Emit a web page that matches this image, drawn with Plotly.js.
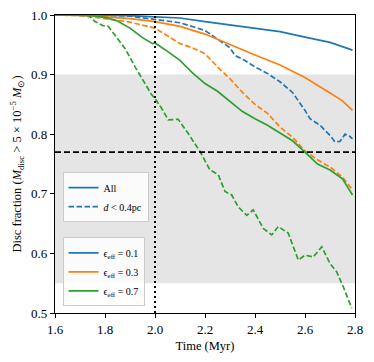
<!DOCTYPE html>
<html>
<head>
<meta charset="utf-8">
<script src="https://cdn.plot.ly/plotly-3.0.1.min.js"></script>
<style>
  body { margin: 0; background: #fff; }
  #plot { width: 374px; height: 362px; }
</style>
</head>
<body>
<div id="plot"></div>
<script>
// disc fraction vs time
let tBlueAll = [1.6, 1.7, 1.8, 1.9, 2.0, 2.1, 2.2, 2.3, 2.4, 2.5, 2.6, 2.7, 2.79];
let fBlueAll = [1.0, 1.0, 1.0, 0.999, 0.997, 0.995, 0.989, 0.983, 0.977, 0.972, 0.963, 0.954, 0.941];

let tBlueNear = [1.6, 1.7, 1.8, 1.85, 1.9, 2.0, 2.1, 2.2, 2.25, 2.3, 2.32, 2.35, 2.4, 2.45, 2.5, 2.55, 2.6, 2.62, 2.66, 2.7, 2.72, 2.74, 2.76, 2.78, 2.79];
let fBlueNear = [1.0, 1.0, 1.0, 0.999, 0.998, 0.993, 0.987, 0.974, 0.960, 0.945, 0.932, 0.926, 0.913, 0.902, 0.888, 0.870, 0.840, 0.826, 0.815, 0.798, 0.787, 0.788, 0.800, 0.796, 0.792];

let tOrangeAll = [1.6, 1.7, 1.8, 1.9, 2.0, 2.1, 2.2, 2.3, 2.4, 2.5, 2.6, 2.7, 2.75, 2.79];
let fOrangeAll = [1.0, 1.0, 0.997, 0.994, 0.989, 0.981, 0.968, 0.950, 0.933, 0.916, 0.895, 0.869, 0.856, 0.840];

let tOrangeNear = [1.6, 1.7, 1.8, 1.9, 2.0, 2.05, 2.1, 2.15, 2.2, 2.25, 2.3, 2.35, 2.4, 2.45, 2.5, 2.55, 2.6, 2.65, 2.7, 2.75, 2.79];
let fOrangeNear = [1.0, 0.999, 0.994, 0.988, 0.978, 0.965, 0.952, 0.945, 0.935, 0.913, 0.893, 0.870, 0.850, 0.835, 0.812, 0.795, 0.772, 0.757, 0.745, 0.728, 0.707];

let tGreenAll = [1.6, 1.7, 1.75, 1.8, 1.85, 1.9, 1.95, 1.99, 2.0, 2.05, 2.1, 2.15, 2.2, 2.25, 2.3, 2.35, 2.4, 2.45, 2.5, 2.55, 2.6, 2.65, 2.7, 2.75, 2.79];
let fGreenAll = [1.0, 1.0, 0.999, 0.996, 0.99, 0.978, 0.962, 0.952, 0.953, 0.939, 0.924, 0.903, 0.885, 0.872, 0.855, 0.838, 0.826, 0.815, 0.802, 0.789, 0.770, 0.750, 0.740, 0.725, 0.698];

let tGreenNear = [1.6, 1.7, 1.733, 1.76, 1.793, 1.813, 1.84, 1.88, 1.92, 1.96, 1.987, 2.0, 2.027, 2.053, 2.093, 2.133, 2.18, 2.22, 2.253, 2.28, 2.307, 2.333, 2.367, 2.393, 2.433, 2.467, 2.493, 2.533, 2.573, 2.6, 2.633, 2.667, 2.7, 2.727, 2.753, 2.787];
let fGreenNear = [1.0, 1.0, 1.0, 0.989, 0.982, 0.981, 0.966, 0.944, 0.913, 0.885, 0.866, 0.860, 0.843, 0.824, 0.825, 0.801, 0.771, 0.740, 0.732, 0.704, 0.698, 0.678, 0.664, 0.673, 0.642, 0.631, 0.645, 0.634, 0.589, 0.597, 0.594, 0.611, 0.583, 0.569, 0.544, 0.508];

let bandLow = 0.55, bandHigh = 0.9;
let refFraction = 0.77;
let refTime = 2.0;

let blue = "#1f77b4", orange = "#ff7f0e", green = "#2ca02c";
let font = "Liberation Serif";
let mplDash = "5.5px,2.5px"; // matplotlib style dashes

function line(x, y, color, dash) {
    return {
        x: x, y: y, type: "scatter", mode: "lines",
        line: {color: color, width: 1.7, dash: dash},
        showlegend: false, hoverinfo: "skip"
    };
}

// legend-only entries
function key(name, color, dash, legend) {
    return {
        x: [null], y: [null], type: "scatter", mode: "lines", name: name,
        line: {color: color, width: 1.7, dash: dash}, legend: legend
    };
}

let data = [
    line(tBlueAll, fBlueAll, blue, "solid"),
    line(tBlueNear, fBlueNear, blue, mplDash),
    line(tOrangeAll, fOrangeAll, orange, "solid"),
    line(tOrangeNear, fOrangeNear, orange, mplDash),
    line(tGreenAll, fGreenAll, green, "solid"),
    line(tGreenNear, fGreenNear, green, mplDash),
    key("All", blue, "solid", "legend"),
    key("<i>d</i> &lt; 0.4pc", blue, mplDash, "legend"),
    key("ϵ<sub>eff</sub> = 0.1", blue, "solid", "legend2"),
    key("ϵ<sub>eff</sub> = 0.3", orange, "solid", "legend2"),
    key("ϵ<sub>eff</sub> = 0.7", green, "solid", "legend2")
];

let legendStyle = {
    bgcolor: "rgba(255,255,255,0.85)",
    bordercolor: "#cccccc",
    borderwidth: 1,
    font: {family: font, size: 10, color: "#000"},
    xanchor: "left", yanchor: "bottom",
    tracegroupgap: 0, itemwidth: 30
};

let layout = {
    width: 374,
    height: 362,
    margin: {l: 55, r: 19, t: 15, b: 49},
    paper_bgcolor: "#fff",
    plot_bgcolor: "#fff",
    font: {family: font, size: 12, color: "#000"},
    xaxis: {
        range: [1.6, 2.8],
        tickvals: [1.6, 1.8, 2.0, 2.2, 2.4, 2.6, 2.8],
        tickformat: ".1f",
        tickfont: {family: font, size: 13},
        ticks: "outside", ticklen: 4, tickcolor: "#000",
        showgrid: false, zeroline: false,
        showline: true, linecolor: "#000", linewidth: 1.2, mirror: true,
        title: {text: "Time (Myr)", font: {family: font, size: 12.5}, standoff: 5}
    },
    yaxis: {
        range: [0.5, 1.0],
        tickvals: [0.5, 0.6, 0.7, 0.8, 0.9, 1.0],
        tickformat: ".1f",
        tickfont: {family: font, size: 13},
        ticks: "outside", ticklen: 4, tickcolor: "#000",
        showgrid: false, zeroline: false,
        showline: true, linecolor: "#000", linewidth: 1.2, mirror: true,
        title: {text: "Disc fraction (<i>M</i><sub>disc</sub> > 5 × 10<sup>−5</sup> <i>M</i><sub>⊙</sub>)", font: {family: font, size: 12.5}, standoff: 6}
    },
    shapes: [
        {type: "rect", xref: "paper", x0: 0, x1: 1, yref: "y", y0: bandLow, y1: bandHigh,
         fillcolor: "#e5e5e5", line: {width: 0}, layer: "below"},
        {type: "line", xref: "paper", x0: 0, x1: 1, yref: "y", y0: refFraction, y1: refFraction,
         line: {color: "#000", width: 1.8, dash: "6px,3px"}, layer: "above"},
        {type: "line", xref: "x", x0: refTime, x1: refTime, yref: "paper", y0: 0, y1: 1,
         line: {color: "#000", width: 2, dash: "2px,3px"}, layer: "above"}
    ],
    legend: Object.assign({}, legendStyle, {x: 0.025, y: 0.305}),
    legend2: Object.assign({}, legendStyle, {x: 0.025, y: 0.022}),
    showlegend: true
};

Plotly.newPlot("plot", data, layout, {displayModeBar: false});
</script>
</body>
</html>
